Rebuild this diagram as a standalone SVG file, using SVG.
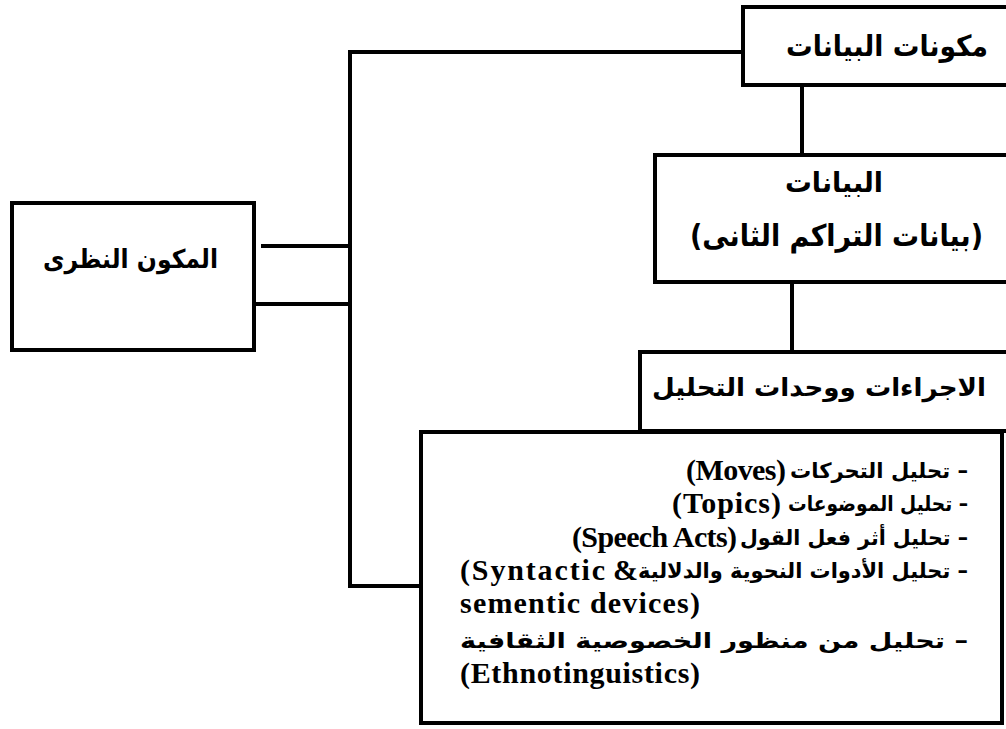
<svg xmlns="http://www.w3.org/2000/svg" width="1006" height="729" viewBox="0 0 1006 729">
<style>
  .box { fill: #fff; stroke: #000; stroke-width: 4; }
  .ln { stroke: #000; stroke-width: 4; fill: none; stroke-linecap: square; }
  .ar { font-family: "DejaVu Sans", sans-serif; font-weight: bold; fill: #000; }
  .en { font-family: "Liberation Serif", serif; font-weight: bold; fill: #000; font-size: 30px; }
</style>
<rect width="1006" height="729" fill="#fff"/>
<g id="connectors">
  <line class="ln" x1="350" y1="52" x2="743" y2="52"/>
  <line class="ln" x1="350" y1="52" x2="350" y2="586"/>
  <line class="ln" x1="263" y1="246" x2="350" y2="246"/>
  <line class="ln" x1="254" y1="304" x2="350" y2="304"/>
  <line class="ln" x1="350" y1="586" x2="421" y2="586"/>
  <line class="ln" x1="802" y1="85" x2="802" y2="155"/>
  <line class="ln" x1="792" y1="282" x2="792" y2="352"/>
</g>
<g id="node-theory">
  <rect class="box" x="12" y="203" width="242" height="147"/>
  <text class="ar" x="218" y="268" font-size="26" text-anchor="end" textLength="175" lengthAdjust="spacingAndGlyphs">المكون النظرى</text>
</g>
<g id="node-data-components">
  <rect class="box" x="743" y="7" width="270" height="78"/>
  <text class="ar" x="988" y="56" font-size="29" text-anchor="end" textLength="202" lengthAdjust="spacingAndGlyphs">مكونات البيانات</text>
</g>
<g id="node-data">
  <rect class="box" x="655" y="155" width="358" height="127"/>
  <text class="ar" x="883" y="192" font-size="28" text-anchor="end" textLength="98" lengthAdjust="spacingAndGlyphs">البيانات</text>
  <text class="ar" x="983" y="246" font-size="30" text-anchor="end" textLength="293" lengthAdjust="spacingAndGlyphs">(بيانات التراكم الثانى)</text>
</g>
<g id="node-procedures">
  <rect class="box" x="640" y="352" width="373" height="79"/>
  <text class="ar" x="986" y="396" font-size="25" text-anchor="end" textLength="334" lengthAdjust="spacingAndGlyphs">الاجراءات ووحدات التحليل</text>
</g>
<g id="node-analysis">
  <rect class="box" x="421" y="432" width="581" height="291"/>
  <text class="ar" x="968" y="478" font-size="21" text-anchor="end" textLength="178" lengthAdjust="spacingAndGlyphs">تحليل التحركات –</text>
  <text class="en" x="786" y="480" text-anchor="end" textLength="100">(Moves)</text>
  <text class="ar" x="968" y="511" font-size="21" text-anchor="end" textLength="180" lengthAdjust="spacingAndGlyphs">تحليل الموضوعات –</text>
  <text class="en" x="781" y="513" text-anchor="end" textLength="109">(Topics)</text>
  <text class="ar" x="968" y="545" font-size="21" text-anchor="end" textLength="228" lengthAdjust="spacingAndGlyphs">تحليل أثر فعل القول –</text>
  <text class="en" x="737" y="547" text-anchor="end" textLength="165">(Speech Acts)</text>
  <text class="ar" x="968" y="578" font-size="21" text-anchor="end" textLength="330" lengthAdjust="spacingAndGlyphs">تحليل الأدوات النحوية والدلالية –</text>
  <text class="en" x="638" y="580" text-anchor="end">&amp;</text>
  <text class="en" x="460" y="580" textLength="145">(Syntactic</text>
  <text class="en" x="460" y="613" textLength="240">sementic devices)</text>
  <text class="ar" x="968" y="648" font-size="21" text-anchor="end" textLength="508" lengthAdjust="spacingAndGlyphs">تحليل من منظور الخصوصية الثقافية –</text>
  <text class="en" x="460" y="683" textLength="240">(Ethnotinguistics)</text>
</g>
</svg>
